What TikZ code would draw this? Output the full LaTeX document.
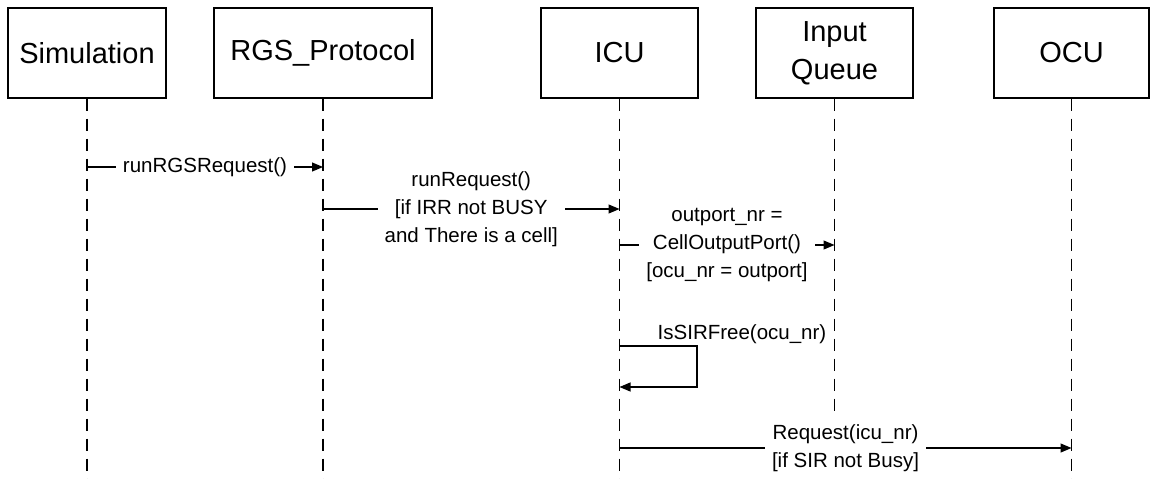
\documentclass[tikz,border=0pt]{standalone}
\usepackage{fontspec}
\setmainfont{Liberation Sans}
\usetikzlibrary{arrows.meta}

\begin{document}
\begin{tikzpicture}[x=1pt, y=-1pt,
    obj/.style={draw, line width=1.2pt, minimum height=90pt, align=center, font=\fontsize{29}{38}\selectfont},
    lifeline/.style={line width=1.2pt, dash pattern=on 12pt off 8pt},
    msg/.style={line width=1.2pt, -{Triangle[length=11pt,width=9pt]}},
    lbl/.style={fill=white, align=center, inner sep=7pt, font=\fontsize{20.5}{28}\selectfont}]
    \useasboundingbox (0,0) rectangle (1154,479);

    % objects
    \node[obj, minimum width=158pt] (sim) at (87,53) {Simulation};
    \node[obj, minimum width=218pt] (rgs) at (323,53) {RGS\_Protocol};
    \node[obj, minimum width=157pt] (icu) at (619.5,53) {ICU};
    \node[obj, minimum width=157pt] (iq) at (834.5,53) {Input\\Queue};
    \node[obj, minimum width=155pt] (ocu) at (1071.5,53) {OCU};

    % lifelines
    \foreach \n in {sim,rgs,icu,iq,ocu}
        \draw[lifeline] (\n.south) -- (\n.south |- 0,479);

    % messages
    \draw[msg] (sim |- 0,167) -- node[lbl] (m1) {runRGSRequest()} (rgs |- 0,167);
    \draw[msg] (rgs |- 0,209) -- node[lbl] (m2) {runRequest()\\{[if IRR not BUSY}\\and There is a cell]} (icu |- 0,209);
    \draw[msg] (icu |- 0,245) -- node[lbl] (m3) {outport\_nr =\\CellOutputPort()\\{[ocu\_nr = outport]}} (iq |- 0,245);
    \coordinate (loop) at (697,346);
    \draw[msg] (icu |- loop) -- (loop) -- (loop |- 0,387) -- (icu |- 0,387);
    \node[lbl, fill=none, inner sep=0pt] (m4) at (742,334) {IsSIRFree(ocu\_nr)};
    \draw[msg] (icu |- 0,448) -- node[lbl] (m5) {Request(icu\_nr)\\{[if SIR not Busy]}} (ocu |- 0,448);
\end{tikzpicture}
\end{document}
